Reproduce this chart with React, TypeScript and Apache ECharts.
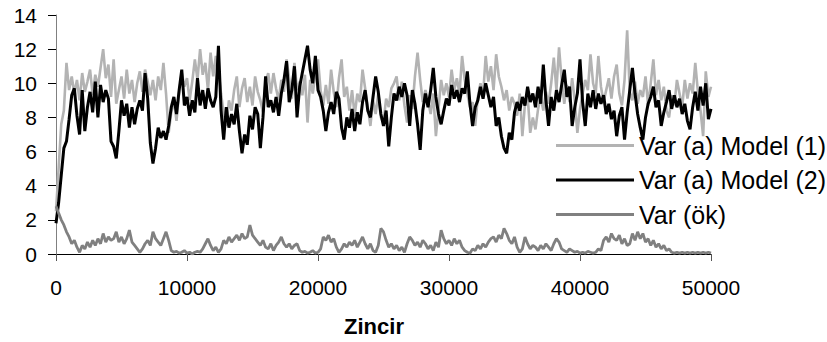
import React, { useEffect, useRef } from "react";
import * as echarts from "echarts";

const xTicks = [0, 10000, 20000, 30000, 40000, 50000];
const yTicks = [0, 2, 4, 6, 8, 10, 12, 14];
const seriesNames = ["Var (a) Model (1)", "Var (a) Model (2)", "Var (ök)"];
const xTitle = "Zincir";
const iterStep = 200;

const model1 = [
  2.5, 5.0, 7.6, 8.4, 11.2, 9.6, 10.4, 9.4, 10.2, 9.0,
  10.6, 9.5, 10.1, 10.8, 9.3, 10.5, 9.8, 10.9, 12.0, 10.3,
  11.1, 9.2, 11.4, 8.8, 9.6, 10.4, 9.1, 10.8, 9.4, 10.2,
  8.9, 10.0, 10.7, 9.5, 10.8, 10.1, 9.3, 10.2, 9.0, 10.4,
  9.6, 11.2, 9.4, 7.1, 8.3, 9.0, 7.8, 9.5, 10.6, 9.8,
  10.3, 9.0, 10.1, 11.4, 10.2, 12.0, 10.5, 11.2, 9.6, 11.8,
  10.4, 11.6, 10.8, 9.4, 8.2, 7.5, 9.0, 8.4, 9.6, 10.4,
  8.6, 9.7, 10.3, 8.9, 9.8, 8.7, 10.4, 9.5, 9.0, 8.3,
  10.1, 10.6, 9.4, 10.6, 9.7, 9.0, 10.2, 9.5, 11.4, 10.3,
  9.1, 11.2, 9.6, 10.1, 9.3, 10.5, 7.7, 10.2, 9.4, 10.6,
  11.4, 9.6, 8.7, 9.9, 8.8, 10.8, 9.5, 8.6, 10.3, 11.4,
  9.2, 9.8, 8.4, 9.6, 8.1, 9.4, 8.9, 10.8, 9.7, 8.6,
  7.5, 9.0, 8.2, 9.4, 8.0, 7.7, 9.1, 8.6, 9.7, 10.0,
  10.4, 9.0, 10.1, 8.7, 7.7, 9.3, 8.5, 10.4, 11.8, 10.2,
  8.9, 9.6, 9.0, 8.2, 9.4, 6.9, 8.5, 10.2, 9.3, 10.0,
  9.2, 10.8, 9.6, 10.3, 9.4, 11.6, 10.2, 9.4, 8.6, 8.9,
  7.5, 9.2, 10.0, 9.3, 11.6, 10.1, 11.0, 9.6, 11.7, 10.4,
  9.8, 9.0, 9.6, 8.4, 9.2, 8.8, 8.1, 9.4, 6.9, 8.8,
  9.3, 7.1, 8.0, 7.3, 8.5, 9.2, 8.4, 9.5, 8.8, 10.0,
  11.5, 9.6, 12.1, 10.2, 8.8, 9.9, 8.9, 10.3, 9.0, 7.1,
  8.5, 9.4, 10.2, 9.6, 11.7, 10.0, 9.4, 11.6, 9.8, 8.9,
  9.6, 10.3, 9.1, 10.4, 11.1, 9.4, 8.7, 10.2, 13.1, 9.5,
  9.0, 10.1, 8.8, 9.6, 9.2, 10.4, 8.7, 10.0, 11.4, 9.3,
  10.2, 9.0, 9.8, 8.4, 8.0, 9.3, 8.7, 10.2, 9.4, 8.6,
  10.2, 9.1, 10.0, 9.4, 11.2, 9.5, 8.4, 6.9, 10.7, 9.2,
  9.8,
];

const model2 = [
  1.8, 3.0, 4.6, 6.2, 6.6, 7.9, 9.3, 9.7, 8.1, 7.0,
  9.6, 7.2, 8.6, 9.5, 8.3, 10.1, 8.0, 9.9, 8.9, 9.6,
  9.1, 6.6, 6.3, 5.6, 7.2, 9.0, 8.1, 8.8, 7.4, 8.6,
  7.6, 8.5, 9.0, 8.4, 10.6, 9.1, 6.5, 5.3, 6.2, 7.4,
  6.8, 7.2, 6.7, 7.5, 8.6, 9.2, 8.2, 9.6, 10.8, 8.7,
  9.2, 8.1, 9.0, 8.3, 10.3, 8.7, 9.6, 8.5, 9.7, 9.0,
  8.6, 9.2, 12.2, 8.4, 6.7, 8.6, 7.4, 8.2, 7.6, 8.8,
  7.2, 5.9, 7.0, 6.4, 8.1, 7.3, 8.6, 8.2, 6.2, 8.0,
  10.4, 8.6, 9.0, 8.3, 9.2, 8.1, 9.4, 10.2, 11.3, 8.9,
  9.6, 11.0, 8.0, 9.8, 10.6, 11.4, 12.2, 10.8, 10.0, 11.6,
  9.6, 9.2, 8.4, 7.2, 8.3, 8.9, 8.2, 9.5, 9.1, 7.4,
  6.7, 8.0, 7.4, 8.5, 7.2, 8.3, 7.6, 8.9, 9.6, 8.4,
  8.0, 9.2, 10.4, 9.5, 8.2, 7.5, 8.4, 6.3, 8.0, 9.4,
  9.0, 9.8, 9.2, 10.0, 9.3, 7.5, 9.6, 8.8, 7.6, 6.1,
  8.4, 9.4, 8.6, 9.6, 10.9, 9.2, 8.2, 7.6, 8.4, 9.1,
  8.7, 9.9, 9.1, 9.6, 8.9, 9.7, 9.4, 10.7, 8.8, 7.5,
  8.6, 9.0, 9.8, 9.1, 10.0, 9.3, 8.6, 9.2, 7.5, 8.0,
  6.9, 6.2, 5.9, 7.1, 6.7, 8.3, 8.9, 8.4, 9.2, 8.7,
  9.8, 8.9, 9.4, 8.6, 9.8, 8.8, 11.1, 9.0, 7.5, 9.2,
  8.4, 9.6, 8.9, 9.9, 10.8, 9.2, 9.8, 7.5, 8.6, 9.4,
  11.4, 8.9, 7.5, 9.4, 8.6, 9.6, 8.5, 9.4, 8.8, 9.3,
  8.2, 8.8, 7.9, 8.4, 6.9, 8.1, 8.6, 6.7, 8.3, 9.6,
  10.9, 9.4, 8.2, 7.4, 6.7, 8.0, 8.8, 9.2, 9.8, 8.6,
  9.0, 7.5, 8.3, 8.9, 9.6, 8.5, 9.3, 8.6, 9.1, 8.2,
  8.8, 7.8, 7.3, 8.6, 9.5, 8.4, 9.8, 8.7, 10.0, 7.9,
  8.5,
];

const varOk = [
  2.8, 2.4, 2.0, 1.7, 1.3, 1.0, 0.6, 0.8, 0.4, 0.1,
  0.5, 0.3, 0.7, 0.4, 0.8, 0.5, 0.9, 0.6, 1.2, 0.7,
  1.0, 0.8, 0.9, 1.3, 0.7, 1.0, 0.6, 0.9, 1.4, 0.7,
  0.5, 0.3, 0.1, 0.3, 0.6, 0.8, 0.5, 1.3, 0.9, 0.7,
  0.5, 0.9, 1.3, 0.8, 0.2, 0.1, 0.15, 0.05, 0.1, 0.2,
  0.05, 0.1, 0.0, 0.1, 0.15, 0.1, 0.3, 0.6, 0.9, 0.5,
  0.2, 0.4, 0.1, 0.3, 0.8, 0.6, 1.0, 0.7, 0.9, 1.1,
  0.8, 1.2, 0.9, 1.0, 1.7, 1.1, 0.9, 0.7, 0.5, 0.8,
  0.4, 0.3, 0.6, 0.2, 0.5, 0.7, 1.0, 0.6, 0.4, 0.6,
  0.3, 0.5, 0.6, 0.2, 0.1, 0.15, 0.05, 0.1, 0.2, 0.05,
  0.1, 0.3, 1.0, 0.8, 1.1, 0.7, 0.9, 0.4, 0.1, 0.3,
  0.6, 0.4, 0.7, 0.5, 0.8, 0.4, 0.7, 1.0, 0.6, 0.3,
  0.6, 0.2, 0.1, 0.5, 1.5, 1.3, 0.8, 0.4, 0.6, 0.3,
  0.5, 0.2, 0.4, 0.1, 0.6, 1.0, 0.8, 0.5, 0.7, 0.4,
  0.8, 0.6, 0.3, 0.5, 0.2, 0.7, 0.4, 1.4, 0.9, 0.6,
  0.8, 0.5, 0.9, 0.6, 0.8, 0.4, 0.2, 0.1, 0.05, 0.3,
  0.2, 0.5, 0.3, 0.6, 0.4, 0.7, 0.9, 1.0, 0.7, 1.1,
  0.9, 1.5, 1.2, 0.8, 0.6, 1.0, 0.4, 0.1, 0.3, 1.0,
  0.6, 0.3, 0.5, 0.4, 0.2, 0.5, 0.3, 0.6, 0.4, 0.2,
  0.6, 0.9, 0.7, 0.3, 0.2, 0.1, 0.3, 0.2, 0.1, 0.15,
  0.05, 0.1, 0.05, 0.15, 0.1, 0.05, 0.1, 0.3, 0.2, 0.8,
  1.0, 0.7, 1.2, 0.9, 0.8, 1.1, 0.6, 0.9, 0.5, 0.6,
  1.2, 0.8, 1.3, 0.9, 1.2, 0.7, 0.9, 0.5, 0.8, 0.4,
  0.6, 0.3, 0.5, 0.2, 0.3, 0.1, 0.05, 0.1, 0.05, 0.1,
  0.05, 0.1, 0.05, 0.1, 0.05, 0.1, 0.05, 0.1, 0.05, 0.1,
  0.05,
];

const colors = ["#b3b3b3", "#000000", "#808080"];
const lineWidths = [2.6, 3, 2.8];
const FONT = "'Liberation Sans', Arial, sans-serif";

const toPairs = (vals: number[]) => vals.map((v, i) => [i * iterStep, v]);

export default function App() {
  const ref = useRef<HTMLDivElement>(null);
  useEffect(() => {
    if (!ref.current) return;
    const chart = echarts.init(ref.current, null, { renderer: "svg" });
    const allSeries = [model1, model2, varOk];
    chart.setOption({
      animation: false,
      backgroundColor: "#ffffff",
      grid: { left: 56, right: 116, top: 15, bottom: 88, containLabel: false },
      legend: {
        orient: "vertical",
        left: 551,
        top: 128,
        itemWidth: 78,
        itemHeight: 24,
        itemGap: 9.5,
        data: seriesNames.map((n, i) => ({
          name: n,
          icon: "path://M0,0 L78,0 L78,3 L0,3 Z",
          itemStyle: { color: colors[i] },
        })),
        textStyle: { fontFamily: FONT, fontSize: 25, color: "#000", lineHeight: 24 },
      },
      xAxis: {
        type: "value",
        min: xTicks[0],
        max: xTicks[xTicks.length - 1],
        interval: xTicks[1] - xTicks[0],
        splitLine: { show: false },
        axisLine: { show: true, onZero: false, lineStyle: { color: "#000", width: 1 } },
        axisTick: { show: true, length: 7, lineStyle: { color: "#555" } },
        axisLabel: {
          fontFamily: FONT,
          fontSize: 21,
          color: "#000",
          margin: 23,
          formatter: (v: number) => String(v),
        },
      },
      yAxis: {
        type: "value",
        min: yTicks[0],
        max: yTicks[yTicks.length - 1],
        interval: yTicks[1] - yTicks[0],
        splitLine: { show: false },
        axisLine: { show: true, lineStyle: { color: "#808080", width: 1 } },
        axisTick: { show: true, length: 8, lineStyle: { color: "#000" } },
        axisLabel: {
          fontFamily: FONT,
          fontSize: 21,
          color: "#000",
          margin: 19,
          formatter: (v: number) => String(v),
        },
      },
      graphic: [
        {
          type: "text",
          x: 374,
          y: 326,
          style: {
            text: xTitle,
            fontFamily: FONT,
            fontSize: 22,
            fontWeight: "bold",
            fill: "#000",
            align: "center",
            verticalAlign: "middle",
          },
        },
      ],
      series: allSeries.map((vals, i) => ({
        name: seriesNames[i],
        type: "line",
        data: toPairs(vals),
        showSymbol: false,
        symbol: "none",
        color: colors[i],
        lineStyle: { color: colors[i], width: lineWidths[i] },
        z: i + 2,
      })),
    });
    return () => chart.dispose();
  }, []);
  return (
    <div
      ref={ref}
      style={{ position: "absolute", left: 0, top: 0, width: 827, height: 342 }}
    />
  );
}
